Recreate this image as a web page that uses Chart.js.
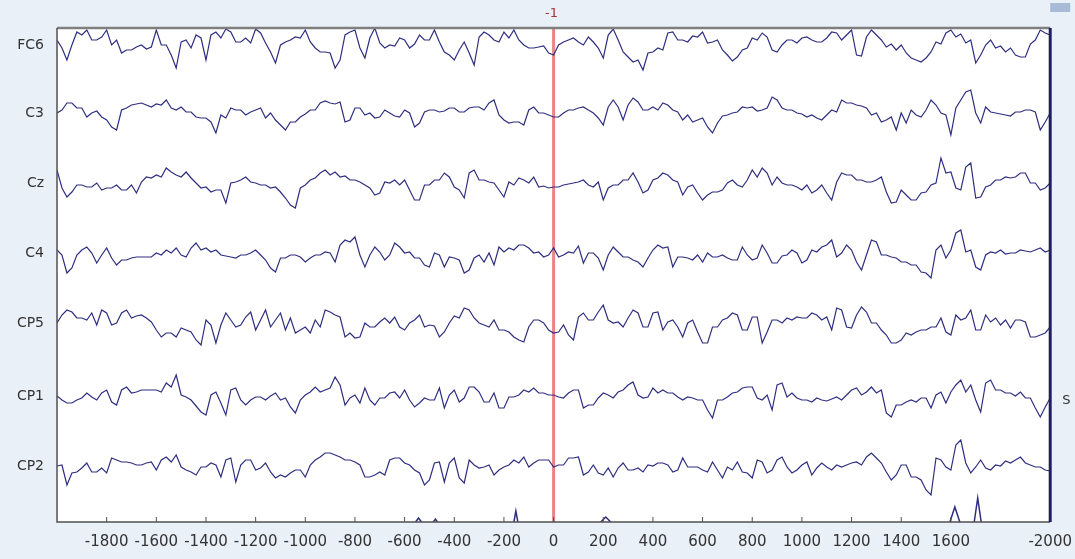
<!DOCTYPE html>
<html>
<head>
<meta charset="utf-8">
<script src="https://cdn.jsdelivr.net/npm/chart.js@4.4.0/dist/chart.umd.min.js"></script>
<style>
  body { margin: 0; background: #e9f0f8; }
  canvas { display: block; }
</style>
</head>
<body>
<canvas id="eeg" width="1075" height="559"></canvas>
<script>
// EEG epoch, 7 channels, one sample every 20 ms from -2000 to 2000 ms
var startTime = -2000;
var sampleStep = 20;

var channelNames = ['FC6', 'C3', 'Cz', 'C4', 'CP5', 'CP1', 'CP2'];
var channelOffsets = [0, -68, -138, -208, -278, -351, -421];

var fc6 = [
  5,-3,-15,0,13,10,15,5,5,8,15,0,5,-8,-5,-5,-2,0,-4,-2,
  15,0,0,-10,-23,3,5,-3,10,7,-15,10,13,7,16,13,3,3,7,2,
  16,12,2,-7,-18,0,3,5,8,7,15,3,-3,-7,-7,-8,-23,-15,10,13,
  15,-3,-13,7,17,2,-3,0,-1,7,5,-3,1,10,5,5,15,3,-7,-10,
  -15,-5,3,-8,-20,8,13,10,5,3,13,7,15,5,0,-3,-3,-2,-1,-8,
  -10,0,3,5,7,3,0,8,3,-3,-13,10,16,5,-7,-12,-17,-15,-25,-8,
  -7,-3,-5,12,13,5,5,3,9,8,13,2,3,5,-5,-10,-16,-12,-5,-3,
  7,5,12,8,-5,-7,0,5,5,2,7,8,5,3,3,7,13,12,5,10,
  15,-10,-11,8,15,10,5,-2,1,-5,0,-8,-13,-15,-17,-13,-7,3,1,12,
  15,8,11,2,5,-18,-10,0,5,-3,-1,-7,-3,-10,-12,-12,1,5,15,12,
  10];
var c3 = [
  0,3,10,10,5,5,-4,0,2,-4,-7,-14,-17,3,5,8,9,10,8,6,
  9,8,13,5,3,6,1,1,-4,-5,-5,-9,-20,-2,-5,5,3,3,-2,1,
  3,5,-5,0,-7,-12,-17,-9,-9,-4,-1,3,3,10,12,10,9,11,-9,-7,
  5,5,-2,0,-5,-4,3,0,-3,-4,3,0,-14,-10,1,3,3,1,2,5,
  5,1,1,5,6,6,3,10,13,-2,-7,-10,-9,-9,-12,3,6,0,0,-2,
  -4,-4,0,3,3,5,6,3,0,-5,-12,6,13,6,-7,8,15,11,3,3,
  6,3,10,8,3,1,-7,-2,-9,-7,-5,-14,-20,-10,-3,-2,0,1,6,5,
  6,2,3,5,16,13,5,3,3,0,-1,-4,-2,-5,-7,-2,3,1,13,10,
  10,8,7,5,-2,0,-9,-7,-4,-17,0,-10,3,-2,-4,3,13,8,0,-2,
  -22,5,13,21,23,0,-10,6,1,0,-1,-2,-3,1,1,3,3,1,-17,-9,
  0];
var cz = [
  13,-5,-14,-9,-2,-2,-4,-4,0,-7,-5,-5,-2,-7,-7,-2,-10,1,6,5,
  8,6,15,11,8,6,11,5,0,-5,-4,-9,-7,-7,-20,0,1,3,6,1,
  0,-2,-2,-5,-4,-9,-15,-22,-25,-5,-2,3,5,10,13,8,11,6,7,3,
  3,1,-2,-5,-12,-10,1,0,3,-2,3,-7,-17,-17,-2,-2,3,3,10,6,
  -4,-7,-15,10,13,3,3,1,0,-7,-14,1,-2,5,3,0,6,-4,-3,-5,
  -4,-4,-2,-1,0,1,3,-2,-4,1,-17,-5,-2,-2,3,3,10,1,-10,-7,
  3,5,10,8,3,1,-12,-4,-2,-10,-17,-12,-9,-9,-7,0,3,-2,-4,3,
  13,6,15,10,-2,6,0,-2,-2,-4,-7,-2,-10,-7,-2,-10,-17,1,10,8,
  8,3,3,1,1,3,6,-9,-20,-19,-7,-12,-17,-17,-10,-9,-2,0,25,10,
  11,-5,-7,16,20,-15,-14,-4,-2,3,3,6,5,6,10,10,0,0,-7,-5,
  0];
var c4 = [
  3,-2,-20,-15,-2,3,6,0,-10,-2,5,-5,-12,-7,-7,-5,-4,-4,-4,-4,
  0,-2,3,0,5,-2,-4,5,10,3,5,1,3,-2,-3,-4,-5,-2,-2,0,
  3,-2,-7,-15,-19,-5,-5,-2,-2,-4,-9,-5,-2,-2,1,0,-9,8,13,11,
  16,-2,-14,-2,6,1,-7,-2,10,6,0,1,-5,-5,-12,-14,0,-2,-14,-4,
  -5,-7,-20,-17,-5,-2,-9,0,-12,6,1,5,3,8,8,5,0,1,-4,-2,
  5,-4,-2,1,0,7,-10,0,0,-5,-17,-2,6,1,-4,-4,-7,-9,-14,-5,
  3,8,5,6,-14,-4,-4,-5,-7,-2,-9,0,-4,-4,-2,-5,-7,-7,6,-2,
  -7,-5,8,0,-10,-10,-3,-2,3,0,-10,-7,3,1,6,8,13,-4,0,8,
  3,-9,-17,-2,13,11,-2,-2,-4,-5,-9,-9,-12,-12,-19,-20,-25,3,8,-5,
  3,20,23,1,3,-14,-17,-2,1,0,3,-1,0,0,3,2,1,3,5,1,
  3];
var cp5 = [
  0,8,13,11,5,5,3,10,-2,13,10,-2,0,10,13,5,7,8,5,1,
  -7,-14,-10,-10,-14,-5,-7,-9,-17,-22,3,-2,-20,-2,10,3,-4,-2,6,11,
  -7,3,13,-4,3,10,-7,5,-10,-7,-4,-10,3,-4,13,11,8,6,-14,-10,
  -15,-14,0,-4,-4,1,5,0,6,-4,-7,0,3,8,-4,-2,-3,-14,-9,0,
  7,5,15,13,5,0,-2,-4,3,-7,-7,-9,-14,-17,-19,-4,3,3,0,-7,
  -10,-9,-2,-12,-17,6,10,3,3,11,18,3,0,1,-4,5,13,10,-4,-4,
  10,11,-7,1,3,-4,-14,0,3,-9,-20,-20,-4,-4,3,5,10,8,-7,-7,
  6,6,-20,-9,3,3,0,5,3,6,5,5,10,8,3,6,-7,15,13,-4,
  -5,8,16,11,0,0,-7,-12,-20,-20,-17,-10,-12,-9,-7,-7,-4,-4,5,-9,
  -12,8,3,5,13,-7,-7,8,1,5,-2,3,-5,3,3,1,-14,-14,-12,-10,
  -4];
var cp1 = [
  0,-4,-7,-7,-4,-2,3,-1,-4,3,6,-6,-9,6,9,3,4,6,6,6,
  6,4,13,9,21,1,-1,-4,-10,-16,-19,1,4,-7,-19,6,8,-4,-9,-4,
  -1,-1,-4,0,3,-4,-2,-11,-17,-4,1,4,9,4,6,8,19,11,-9,-2,
  1,-7,8,-4,-9,-2,-2,3,4,-2,6,-4,-11,-7,-2,-4,-4,8,-12,1,
  6,-6,-2,9,9,4,-6,-6,3,-12,-12,-1,-1,1,6,4,8,3,3,1,
  1,-1,-2,3,6,6,-12,-9,-9,-2,3,1,-2,4,6,11,14,1,-2,-1,
  8,3,6,3,3,-1,-4,-1,-2,-4,-4,-14,-22,-4,-4,-1,3,4,8,9,
  9,-2,-4,1,-14,11,13,-1,3,-2,-4,-4,-6,-2,-4,-5,-3,-1,-4,1,
  6,8,1,4,9,3,6,-17,-21,-9,-9,-6,-4,-6,-2,-2,-12,1,4,-7,
  4,11,16,4,11,-4,-16,13,16,6,6,3,3,0,4,-2,-2,-12,-21,-11,
  -2];
var cp2 = [
  0,1,-19,-7,-6,-2,3,-6,-6,-2,-7,8,6,4,4,3,1,1,3,4,
  -4,6,9,4,11,-1,-4,-6,-9,-1,-1,3,1,-11,6,8,-16,1,6,6,
  -4,-2,3,-6,-12,-9,-11,-7,-4,-4,-11,1,6,9,13,13,11,9,6,6,
  4,1,-11,-11,-9,-6,-9,6,8,8,3,1,-4,-7,-19,-14,3,4,-16,3,
  8,-12,-17,6,1,-2,-1,1,-9,-4,-1,1,6,3,9,-1,3,6,6,6,
  -1,1,1,8,8,9,-9,-6,1,-7,-9,-2,-11,-2,3,-4,-4,-2,-6,1,
  0,3,3,1,-6,-4,8,-1,-1,-1,-4,-6,4,-4,-12,-1,-4,4,-6,-7,
  -12,6,4,-7,-4,6,9,-1,-7,-4,1,4,-9,-2,3,-1,-4,1,-1,1,
  3,4,1,9,13,8,3,-6,-14,-9,1,1,-11,-11,-14,-24,-29,8,6,-1,
  -4,21,26,3,-7,-1,6,-2,-4,1,0,5,3,6,9,3,1,-1,-1,-4,
  -5];

var channelData = [fc6, c3, cz, c4, cp5, cp1, cp2];

// event channel at the bottom of the window
var eventTimes = [-544, -476, -152, 210, 1616, 1708];
var eventHeights = [4, 3, 11, 5, 15, 24];
var eventHalfWidths = [12, 8, 8, 20, 20, 14];

var tickValues = [-1800,-1600,-1400,-1200,-1000,-800,-600,-400,-200,0,200,400,600,800,1000,1200,1400,1600,2000];
var tickLabels = ['-1800','-1600','-1400','-1200','-1000','-800','-600','-400','-200','0','200','400','600','800','1000','1200','1400','1600','-2000'];

var cursorTime = 0;
var cursorLabel = '-1';

var yMin = -477, yMax = 17;

var datasets = channelData.map(function (vals, c) {
  return {
    label: channelNames[c],
    data: vals.map(function (v, i) { return { x: startTime + i * sampleStep, y: v + channelOffsets[c] }; }),
    borderColor: '#2e2e80',
    borderWidth: 1.2,
    pointRadius: 0,
    tension: 0
  };
});

var eventPoints = [];
eventTimes.forEach(function (t, i) {
  eventPoints.push({ x: t - eventHalfWidths[i], y: yMin });
  eventPoints.push({ x: t, y: yMin + eventHeights[i] });
  eventPoints.push({ x: t + eventHalfWidths[i], y: yMin });
  eventPoints.push({ x: t + eventHalfWidths[i], y: null });
});
datasets.push({
  label: 'events',
  data: eventPoints,
  borderColor: '#2e2e80',
  borderWidth: 1.5,
  pointRadius: 0,
  spanGaps: false
});

var decorations = {
  id: 'decorations',
  beforeDraw: function (chart) {
    var a = chart.chartArea, ctx = chart.ctx;
    ctx.save();
    ctx.fillStyle = '#ffffff';
    ctx.fillRect(a.left, a.top, a.right - a.left, a.bottom - a.top);
    ctx.restore();
  },
  beforeDatasetsDraw: function (chart) {
    var a = chart.chartArea, ctx = chart.ctx;
    var x = chart.scales.x.getPixelForValue(cursorTime);
    ctx.save();
    ctx.strokeStyle = '#e88585';
    ctx.lineWidth = 3;
    ctx.beginPath();
    ctx.moveTo(x, a.top);
    ctx.lineTo(x, a.bottom);
    ctx.stroke();
    ctx.restore();
  },
  afterDatasetsDraw: function (chart) {
    var a = chart.chartArea, ctx = chart.ctx;
    var xs = chart.scales.x, ys = chart.scales.y;
    ctx.save();
    // frame
    ctx.lineWidth = 2.5;
    ctx.strokeStyle = '#7f7f7f';
    ctx.beginPath(); ctx.moveTo(a.left, a.top); ctx.lineTo(a.right, a.top); ctx.stroke();
    ctx.lineWidth = 1.5;
    ctx.strokeStyle = '#505050';
    ctx.beginPath(); ctx.moveTo(a.left, a.top); ctx.lineTo(a.left, a.bottom); ctx.lineTo(a.right, a.bottom); ctx.stroke();
    ctx.lineWidth = 3;
    ctx.strokeStyle = '#1f1f5e';
    ctx.beginPath(); ctx.moveTo(a.right, a.top); ctx.lineTo(a.right, a.bottom); ctx.stroke();
    // inside ticks on the time axis
    ctx.lineWidth = 1;
    ctx.strokeStyle = '#505050';
    tickValues.forEach(function (v) {
      var px = xs.getPixelForValue(v);
      if (px >= a.right - 2) return;
      ctx.beginPath(); ctx.moveTo(px, a.bottom); ctx.lineTo(px, a.bottom - 5); ctx.stroke();
    });
    // cursor label
    ctx.fillStyle = '#a83636';
    ctx.font = '13px "DejaVu Sans"';
    ctx.textAlign = 'center';
    ctx.textBaseline = 'bottom';
    ctx.fillText(cursorLabel, xs.getPixelForValue(cursorTime) - 2, a.top - 8);
    // cut-off scale letter on the right
    ctx.fillStyle = '#333333';
    ctx.textAlign = 'left';
    ctx.textBaseline = 'middle';
    ctx.fillText('S', a.right + 12, ys.getPixelForValue(channelOffsets[5]) + 5);
    // small widget in the top right corner
    ctx.fillStyle = '#a7bad6';
    ctx.fillRect(a.right, 3, 20, 9);
    ctx.restore();
  }
};

new Chart(document.getElementById('eeg'), {
  type: 'line',
  data: { datasets: datasets },
  options: {
    responsive: false,
    animation: false,
    layout: { padding: { top: 28, right: 20, left: 0, bottom: 0 } },
    plugins: { legend: { display: false }, tooltip: { enabled: false } },
    scales: {
      x: {
        type: 'linear',
        min: startTime,
        max: 2000,
        border: { display: false },
        grid: { display: false },
        afterBuildTicks: function (scale) {
          scale.ticks = tickValues.map(function (v) { return { value: v }; });
        },
        afterFit: function (scale) { scale.height = 37; },
        ticks: {
          autoSkip: false,
          maxRotation: 0,
          padding: 3,
          color: '#333333',
          font: { family: 'DejaVu Sans', size: 15 },
          callback: function (value) { return tickLabels[tickValues.indexOf(value)]; }
        }
      },
      y: {
        min: yMin,
        max: yMax,
        border: { display: false },
        grid: { display: false },
        afterBuildTicks: function (scale) {
          scale.ticks = channelOffsets.map(function (v) { return { value: v }; });
        },
        afterFit: function (scale) { scale.width = 57; },
        ticks: {
          autoSkip: false,
          padding: 5,
          color: '#333333',
          font: { family: 'DejaVu Sans', size: 14 },
          callback: function (value) { return channelNames[channelOffsets.indexOf(value)]; }
        }
      }
    }
  },
  plugins: [decorations]
});
</script>
</body>
</html>
